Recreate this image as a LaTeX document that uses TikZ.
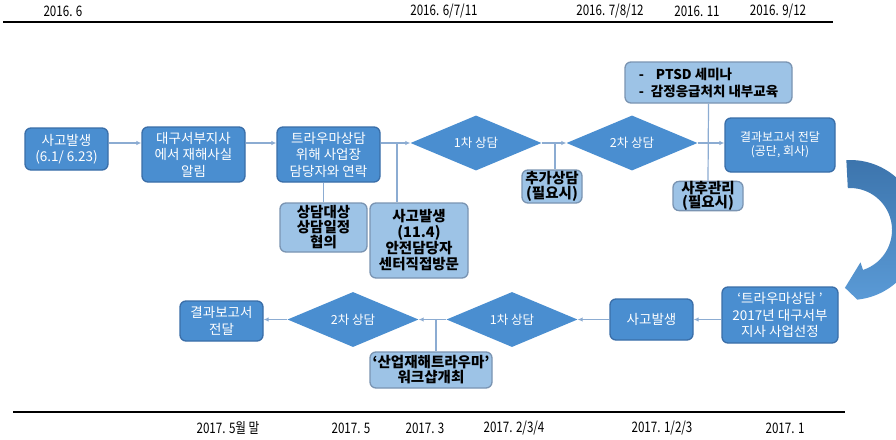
\documentclass[tikz,border=0pt]{standalone}
\usepackage{fontspec}
\setmainfont{Noto Sans CJK KR}
\newfontfamily\datefont[FakeStretch=0.8]{Noto Sans CJK KR}
\usetikzlibrary{shapes.geometric,arrows.meta}
\definecolor{boxfill}{RGB}{74,142,208}
\definecolor{boxline}{RGB}{58,110,168}
\definecolor{lightfill}{RGB}{157,195,230}
\definecolor{lightline}{RGB}{122,148,178}
\definecolor{connc}{RGB}{140,172,210}
\definecolor{arcTop}{RGB}{60,116,172}
\definecolor{arcBot}{RGB}{90,154,214}
\begin{document}
\begin{tikzpicture}[x=1pt,y=-1pt,
 darkbox/.style={draw=boxline, line width=1.3pt, fill=boxfill, rounded corners=6pt, text=white, align=center, font=\fontsize{13.5}{16.5}\selectfont, inner sep=0pt},
 lightbox/.style={draw=lightline, line width=1.3pt, fill=lightfill, rounded corners=6pt, text=black, align=center, font=\fontsize{14.5}{15}\selectfont\bfseries, inner sep=0pt},
 diam/.style={diamond, aspect=2.4, fill=boxfill, text=white, font=\fontsize{12.5}{15}\selectfont, inner sep=1pt, minimum width=131pt, minimum height=55pt},
 conn/.style={draw=connc, line width=1.2pt},
 arr/.style={conn, -{Latex[length=5pt,width=4.5pt]}},
 datel/.style={font=\datefont\fontsize{14.5}{16}\selectfont, inner sep=0pt}
]
\fill[white] (0,0) rectangle (896,439);
\useasboundingbox (0,0) rectangle (896,439);

% timeline rules
\draw[line width=2.8pt] (3,22) -- (833,22);
\draw[line width=2.8pt] (13,412) -- (845,412);

% date labels
\node[datel] (t1) at (63,11) {2016. 6};
\node[datel] (t2) at (444,11) {2016. 6/7/11};
\node[datel] (t3) at (610,11) {2016. 7/8/12};
\node[datel] (t4) at (697,11) {2016. 11};
\node[datel] (t5) at (778,11) {2016. 9/12};
\node[datel] (b1) at (228,428) {2017. 5월 말};
\node[datel] (b2) at (351,428) {2017. 5};
\node[datel] (b3) at (425,428) {2017. 3};
\node[datel] (b4) at (514,428) {2017. 2/3/4};
\node[datel] (b5) at (662,428) {2017. 1/2/3};
\node[datel] (b6) at (785,428) {2017. 1};

% top row
\node[darkbox, minimum width=83pt, minimum height=42pt] (A1) at (66.5,149) {사고발생\\(6.1/ 6.23)};
\node[darkbox, minimum width=103pt, minimum height=55pt] (A2) at (193.5,154.5) {대구서부지사\\에서 재해사실\\알림};
\node[darkbox, minimum width=103pt, minimum height=55pt] (A3) at (328.5,154.5) {트라우마상담\\위해 사업장\\담당자와 연락};
\node[lightbox, minimum width=87pt, minimum height=49pt] (L1) at (323.5,227.5) {상담대상\\상담일정\\협의};
\node[lightbox, minimum width=98pt, minimum height=75pt, font=\fontsize{14.5}{16}\selectfont\bfseries] (L2) at (419,240.5) {사고발생\\(11.4)\\안전담당자\\센터직접방문};
\node[diam] (D1) at (476,143) {1차 상담};
\node[diam] (D2) at (632,143) {2차 상담};
\node[lightbox, minimum width=60pt, minimum height=33pt] (L3) at (552,186.5) {추가상담\\(필요시)};
\node[darkbox, minimum width=110pt, minimum height=54pt, font=\fontsize{12}{14}\selectfont] (A4) at (780,145) {결과보고서 전달\\(공단, 회사)};
\node[lightbox, minimum width=167pt, minimum height=41pt, align=left, font=\fontsize{13.5}{17}\selectfont\bfseries] (L4) at (708.5,82.5) {-\hspace{12pt}PTSD 세미나\\-\hspace{7pt}감정응급처치 내부교육};
\node[lightbox, minimum width=70pt, minimum height=28pt, font=\fontsize{14.5}{14}\selectfont\bfseries] (L5) at (708,196) {사후관리\\(필요시)};

% bottom row
\node[darkbox, minimum width=116pt, minimum height=56pt] (B3) at (780,315) {‘트라우마상담 ’\\2017년 대구서부\\지사 사업선정};
\node[darkbox, minimum width=83pt, minimum height=41pt] (B2) at (651.5,319.5) {사고발생};
\node[diam] (D4) at (512,319.5) {1차 상담};
\node[diam] (D3) at (353,319.5) {2차 상담};
\node[lightbox, minimum width=122pt, minimum height=36pt] (L6) at (431,370) {‘산업재해트라우마’\\워크샵개최};
\node[darkbox, minimum width=83pt, minimum height=40pt] (B1) at (221.5,321) {결과보고서\\전달};

% junction coordinates
\coordinate (r1) at (0,143);
\coordinate (r2) at (0,319.5);
\coordinate (j1) at (397,143);
\coordinate (j2) at (555,143);
\coordinate (j3) at (436,319.5);

% top connectors
\draw[arr] (A1.east |- r1) -- (A2.west |- r1);
\draw[arr] (A2.east |- r1) -- (A3.west |- r1);
\draw[arr] (A3.east |- r1) -- (D1.west);
\draw[conn] (j1) -- (j1 |- L2.north);
\draw[conn] (A3.south -| L1.north) -- (L1.north);
\draw[arr] (D1.east) -- (D2.west);
\draw[conn] (j2) -- (j2 |- L3.north);
\draw[conn] (L4.south) -- (L5.north);
\draw[arr] (D2.east) -- (A4.west |- r1);

% bottom connectors
\draw[arr] (B3.west |- r2) -- (B2.east |- r2);
\draw[arr] (B2.west |- r2) -- (D4.east);
\draw[arr] (D4.west) -- (D3.east);
\draw[conn] (j3) -- (j3 |- L6.north);
\draw[arr] (D3.west) -- (B1.east |- r2);

% curved return arrow
\coordinate (cc) at (850,230);
\shade[top color=arcTop, bottom color=arcBot]
  ([shift={(-93:70)}]cc) arc[start angle=-93, end angle=84, radius=70]
  -- ([shift={(95:58)}]cc) -- ([shift={(72:34)}]cc) -- ([shift={(72:42)}]cc)
  arc[start angle=72, end angle=-93, radius=42] -- cycle;
\end{tikzpicture}
\end{document}
